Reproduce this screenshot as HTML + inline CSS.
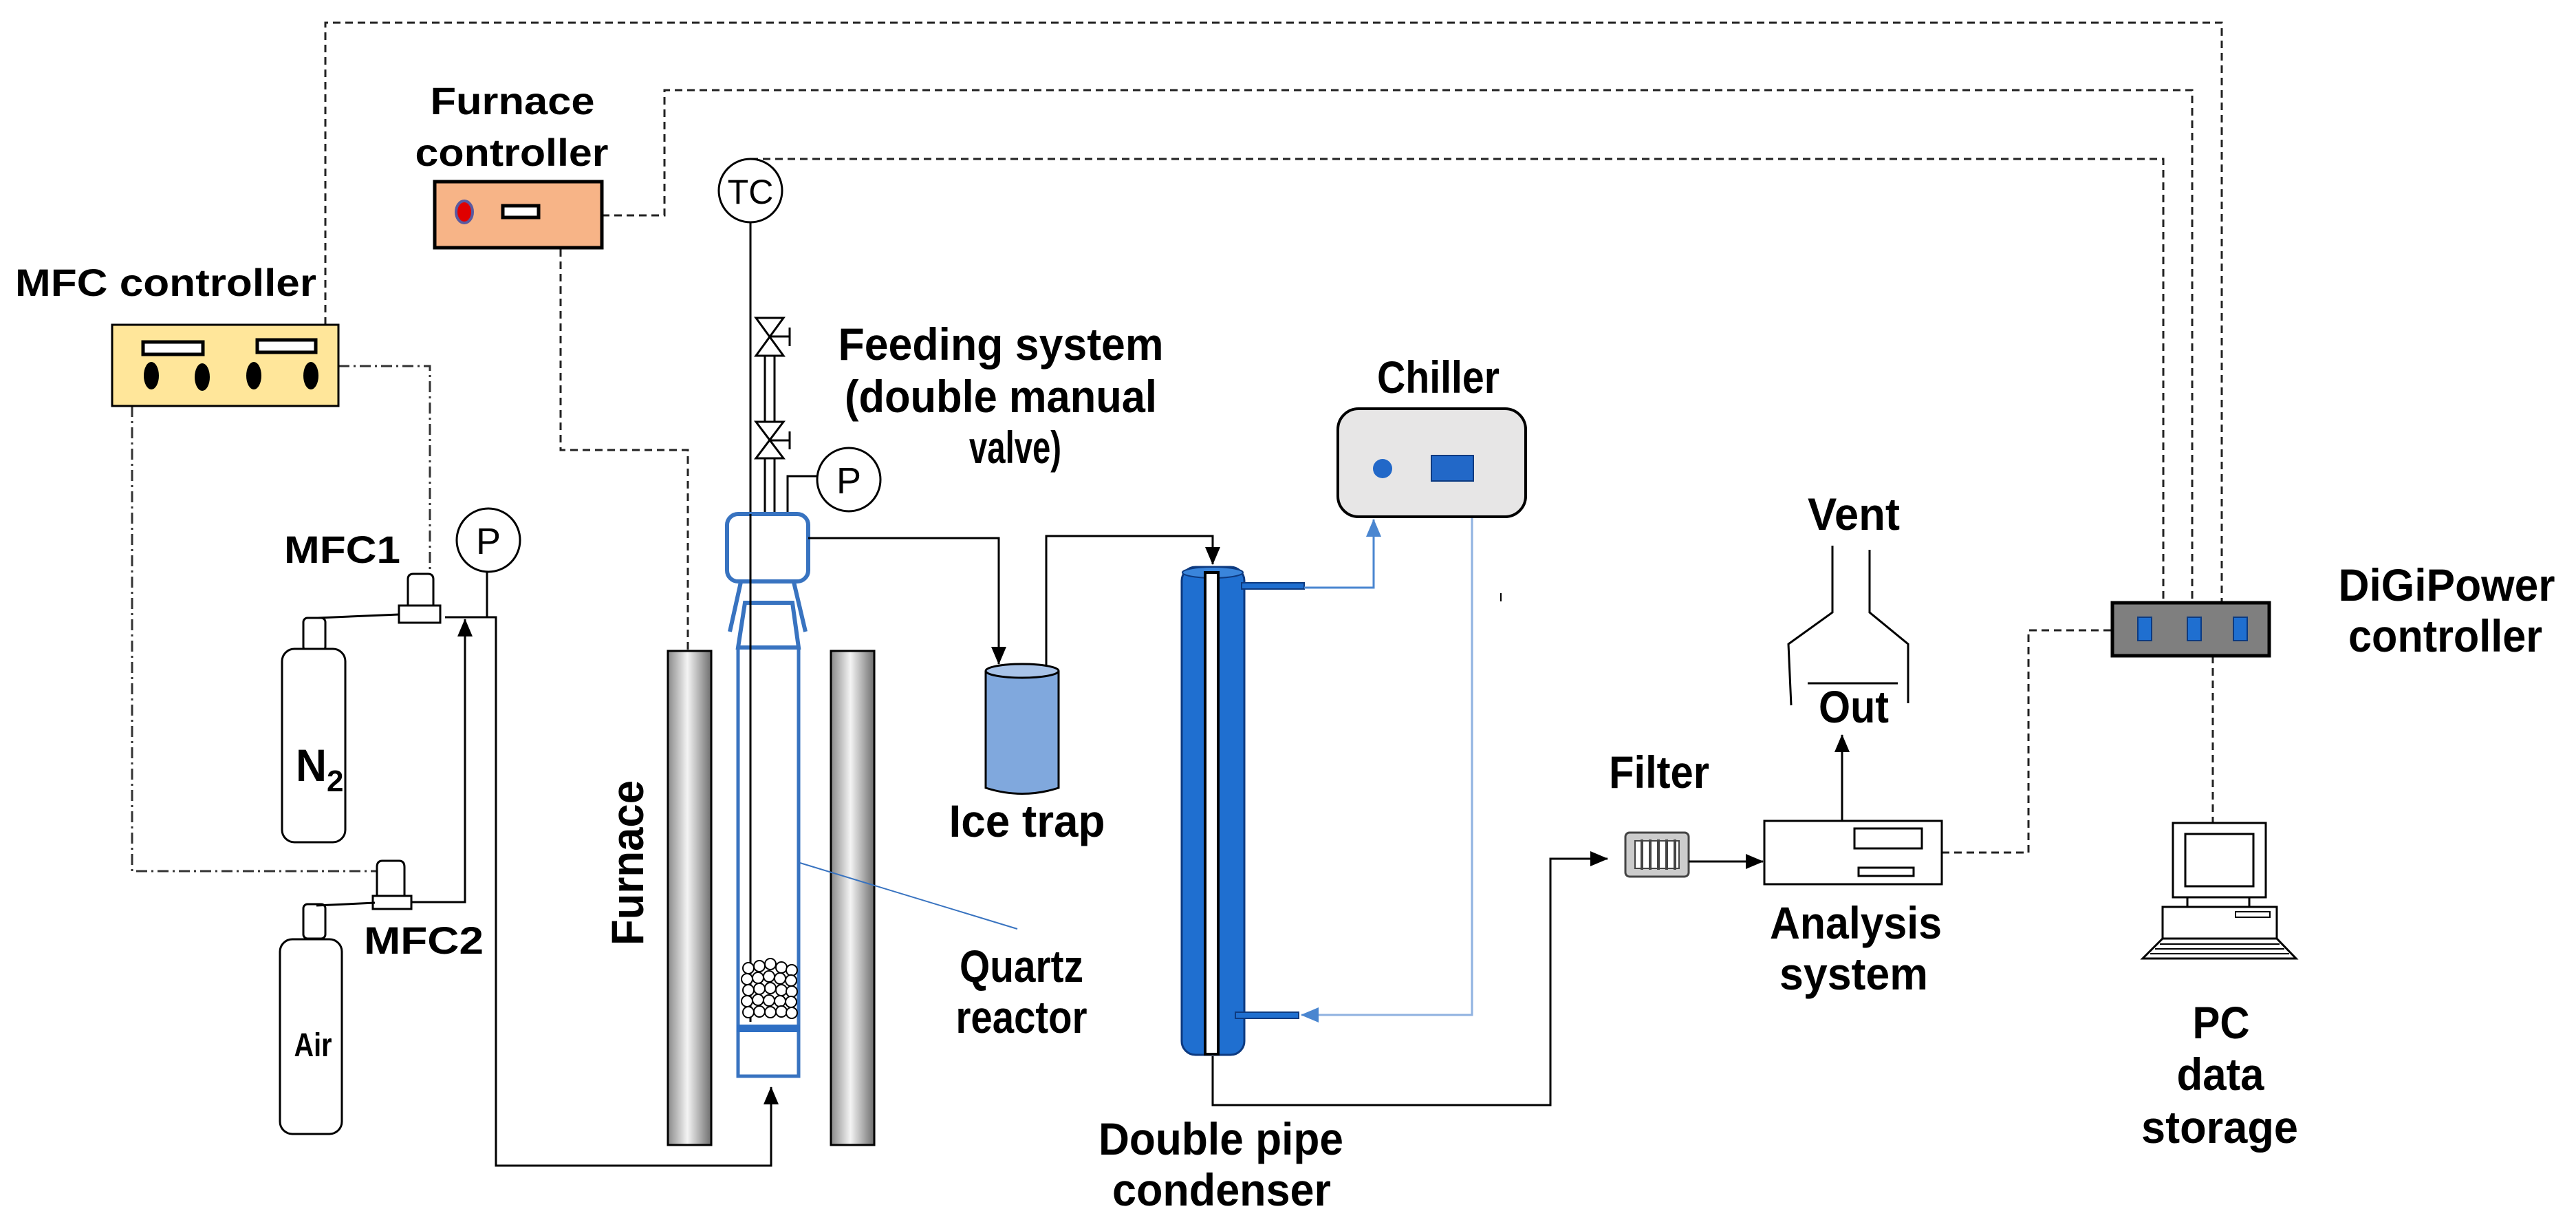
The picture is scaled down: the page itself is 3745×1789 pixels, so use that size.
<!DOCTYPE html>
<html><head><meta charset="utf-8"><style>
html,body{margin:0;padding:0;background:#fff;}
svg{display:block;}
text{font-family:"Liberation Sans",sans-serif;font-weight:bold;fill:#000;}
</style></head><body>
<svg width="3745" height="1789" viewBox="0 0 3745 1789" xmlns="http://www.w3.org/2000/svg">
<defs>
<marker id="ab" markerWidth="10" markerHeight="10" refX="9" refY="5" orient="auto" markerUnits="userSpaceOnUse" viewBox="0 0 10 10"><path d="M0,0 L10,5 L0,10 z" fill="#000"/></marker>
<marker id="abk" markerWidth="26" markerHeight="26" refX="25" refY="13" orient="auto" markerUnits="userSpaceOnUse" viewBox="0 0 26 26"><path d="M0,2 L26,13 L0,24 z" fill="#000"/></marker>
<marker id="abl" markerWidth="26" markerHeight="26" refX="25" refY="13" orient="auto" markerUnits="userSpaceOnUse" viewBox="0 0 26 26"><path d="M0,2 L26,13 L0,24 z" fill="#4A86D0"/></marker>
<linearGradient id="col" x1="0" x2="1" y1="0" y2="0">
<stop offset="0" stop-color="#8a8a8a"/><stop offset="0.45" stop-color="#f4f4f4"/><stop offset="1" stop-color="#6e6e6e"/></linearGradient>
</defs>

<!-- dashed control lines -->
<g fill="none" stroke="#222" stroke-width="3" stroke-dasharray="11 7">
<polyline points="473,472 473,33 3230,33 3230,876"/>
<polyline points="875,313 966,313 966,131 3187,131 3187,876"/>
<polyline points="1091,231 3145,231 3145,876"/>
<polyline points="815,362 815,654 1000,654 1000,946"/>
<polyline points="2823,1239 2949,1239 2949,916 3071,916"/>
<polyline points="3217,953 3217,1196"/>
</g>
<!-- dash-dot MFC lines -->
<g fill="none" stroke="#333" stroke-width="3" stroke-dasharray="16 6 3 6">
<polyline points="492,532 625,532 625,832"/>
<polyline points="192,590 192,1266 548,1266"/>
</g>

<!-- MFC controller -->
<text x="22" y="430" font-size="56" textLength="438" lengthAdjust="spacingAndGlyphs">MFC controller</text>
<rect x="163" y="472" width="329" height="118" fill="#FFE69A" stroke="#000" stroke-width="3"/>
<rect x="208" y="497" width="87" height="18" fill="#fff" stroke="#000" stroke-width="5"/>
<rect x="374" y="494" width="85" height="18" fill="#fff" stroke="#000" stroke-width="5"/>
<ellipse cx="220" cy="546" rx="11" ry="20"/>
<ellipse cx="294" cy="548" rx="11" ry="20"/>
<ellipse cx="369" cy="546" rx="11" ry="20"/>
<ellipse cx="452" cy="546" rx="11" ry="20"/>

<!-- Furnace controller -->
<text x="745" y="166" font-size="56" text-anchor="middle" textLength="239" lengthAdjust="spacingAndGlyphs">Furnace</text>
<text x="744" y="241" font-size="56" text-anchor="middle" textLength="281" lengthAdjust="spacingAndGlyphs">controller</text>
<rect x="632" y="264" width="243" height="96" fill="#F7B487" stroke="#000" stroke-width="5"/>
<ellipse cx="675" cy="308" rx="12" ry="16" fill="#E00000" stroke="#5a5aa0" stroke-width="4"/>
<rect x="731" y="299" width="52" height="17" fill="#fff" stroke="#000" stroke-width="5"/>

<!-- MFC1 / N2 -->
<text x="413" y="818" font-size="56" textLength="169" lengthAdjust="spacingAndGlyphs">MFC1</text>
<circle cx="710" cy="785" r="46" fill="#fff" stroke="#000" stroke-width="3"/>
<text x="710" y="805" font-size="54" font-weight="normal" text-anchor="middle" style="font-weight:normal">P</text>
<line x1="708" y1="831" x2="708" y2="897" stroke="#000" stroke-width="3"/>
<path d="M593,880 L593,842 Q593,834 601,834 L622,834 Q630,834 630,842 L630,880 Z" fill="#fff" stroke="#000" stroke-width="3"/>
<rect x="580" y="880" width="60" height="25" fill="#fff" stroke="#000" stroke-width="3"/>
<rect x="441" y="898" width="32" height="48" rx="6" fill="#fff" stroke="#000" stroke-width="3"/>
<rect x="410" y="943" width="92" height="281" rx="18" fill="#fff" stroke="#000" stroke-width="3"/>
<line x1="462" y1="898" x2="580" y2="893" stroke="#000" stroke-width="3"/>
<text x="430" y="1135" font-size="66" textLength="45" lengthAdjust="spacingAndGlyphs">N</text>
<text x="475" y="1150" font-size="44">2</text>
<polyline points="647,897 721,897 721,1694 1121,1694 1121,1580" fill="none" stroke="#000" stroke-width="3" marker-end="url(#abk)"/>

<!-- MFC2 / Air -->
<path d="M548,1302 L548,1260 Q548,1251 556,1251 L580,1251 Q588,1251 588,1260 L588,1302 Z" fill="#fff" stroke="#000" stroke-width="3"/>
<rect x="542" y="1302" width="56" height="19" fill="#fff" stroke="#000" stroke-width="3"/>
<polyline points="598,1311 676,1311 676,900" fill="none" stroke="#000" stroke-width="3" marker-end="url(#abk)"/>
<rect x="441" y="1314" width="32" height="50" rx="6" fill="#fff" stroke="#000" stroke-width="3"/>
<rect x="407" y="1365" width="90" height="283" rx="18" fill="#fff" stroke="#000" stroke-width="3"/>
<line x1="460" y1="1316" x2="545" y2="1312" stroke="#000" stroke-width="3"/>
<text x="455" y="1535" font-size="48" text-anchor="middle" textLength="55" lengthAdjust="spacingAndGlyphs">Air</text>
<text x="529" y="1386" font-size="56" textLength="174" lengthAdjust="spacingAndGlyphs">MFC2</text>

<!-- Furnace columns -->
<rect x="971" y="946" width="63" height="718" fill="url(#col)" stroke="#000" stroke-width="3"/>
<rect x="1208" y="946" width="63" height="718" fill="url(#col)" stroke="#000" stroke-width="3"/>
<text transform="translate(935,1254) rotate(-90)" font-size="66" text-anchor="middle" textLength="240" lengthAdjust="spacingAndGlyphs">Furnace</text>

<!-- TC, valves, P -->
<circle cx="1091" cy="277" r="46" fill="#fff" stroke="#000" stroke-width="3"/>
<text x="1091" y="296" font-size="50" text-anchor="middle" style="font-weight:normal">TC</text>
<line x1="1091" y1="323" x2="1091" y2="1485" stroke="#000" stroke-width="3"/>
<g fill="#fff" stroke="#000" stroke-width="3">
<path d="M1099,462 L1139,462 L1099,517 L1139,517 Z"/>
<path d="M1099,613 L1139,613 L1099,666 L1139,666 Z"/>
</g>
<g stroke="#000" stroke-width="3">
<line x1="1119" y1="489" x2="1148" y2="489"/><line x1="1148" y1="476" x2="1148" y2="503"/>
<line x1="1119" y1="640" x2="1148" y2="640"/><line x1="1148" y1="627" x2="1148" y2="653"/>
<line x1="1112" y1="517" x2="1112" y2="613"/><line x1="1126" y1="517" x2="1126" y2="613"/>
<line x1="1112" y1="666" x2="1112" y2="747"/><line x1="1126" y1="666" x2="1126" y2="747"/>
<polyline points="1145,747 1145,692 1188,692" fill="none"/>
</g>
<circle cx="1234" cy="697" r="46" fill="#fff" stroke="#000" stroke-width="3"/>
<text x="1234" y="717" font-size="54" text-anchor="middle" style="font-weight:normal">P</text>

<!-- reactor -->
<g fill="none" stroke="#3873C0" stroke-width="6">
<rect x="1057" y="747" width="118" height="98" rx="16" fill="#fff"/>
<line x1="1077" y1="846" x2="1061" y2="918"/>
<line x1="1154" y1="846" x2="1171" y2="918"/>
<path d="M1083,876 L1152,876 L1161,941 L1073,941 Z"/>
<rect x="1073" y="941" width="88" height="623" stroke-width="5"/>
</g>
<line x1="1091" y1="747" x2="1091" y2="1485" stroke="#000" stroke-width="3"/>
<g fill="#fff" stroke="#000" stroke-width="2">
<circle cx="1088" cy="1407" r="8"/><circle cx="1104" cy="1404" r="8"/><circle cx="1120" cy="1401" r="8"/><circle cx="1136" cy="1406" r="8"/><circle cx="1151" cy="1410" r="8"/>
<circle cx="1086" cy="1423" r="8"/><circle cx="1102" cy="1421" r="8"/><circle cx="1118" cy="1419" r="8"/><circle cx="1134" cy="1422" r="8"/><circle cx="1150" cy="1425" r="8"/>
<circle cx="1088" cy="1439" r="8"/><circle cx="1104" cy="1437" r="8"/><circle cx="1120" cy="1436" r="8"/><circle cx="1136" cy="1439" r="8"/><circle cx="1151" cy="1441" r="8"/>
<circle cx="1086" cy="1455" r="8"/><circle cx="1102" cy="1453" r="8"/><circle cx="1118" cy="1454" r="8"/><circle cx="1134" cy="1455" r="8"/><circle cx="1150" cy="1456" r="8"/>
<circle cx="1088" cy="1471" r="8"/><circle cx="1104" cy="1470" r="8"/><circle cx="1120" cy="1471" r="8"/><circle cx="1136" cy="1470" r="8"/><circle cx="1151" cy="1472" r="8"/>
</g>
<rect x="1071" y="1489" width="92" height="11" fill="#2E6FC4"/>
<line x1="1163" y1="1254" x2="1479" y2="1350" stroke="#3873C0" stroke-width="2"/>
<text x="1485" y="1427" font-size="66" text-anchor="middle" textLength="180" lengthAdjust="spacingAndGlyphs">Quartz</text>
<text x="1485" y="1501" font-size="66" text-anchor="middle" textLength="191" lengthAdjust="spacingAndGlyphs">reactor</text>

<!-- Feeding system -->
<text x="1455" y="523" font-size="66" text-anchor="middle" textLength="473" lengthAdjust="spacingAndGlyphs">Feeding system</text>
<text x="1455" y="599" font-size="66" text-anchor="middle" textLength="454" lengthAdjust="spacingAndGlyphs">(double manual</text>
<text x="1476" y="673" font-size="66" text-anchor="middle" textLength="134" lengthAdjust="spacingAndGlyphs">valve)</text>

<!-- ice trap -->
<polyline points="1175,782 1452,782 1452,965" fill="none" stroke="#000" stroke-width="3" marker-end="url(#abk)"/>
<path d="M1433,975 L1433,1145 Q1486,1162 1539,1145 L1539,975" fill="#80A8DD" stroke="#000" stroke-width="3"/>
<ellipse cx="1486" cy="975" rx="53" ry="10" fill="#A8C3E8" stroke="#000" stroke-width="3"/>
<polyline points="1521,968 1521,779 1763,779 1763,820" fill="none" stroke="#000" stroke-width="3" marker-end="url(#abk)"/>
<text x="1493" y="1216" font-size="66" text-anchor="middle" textLength="227" lengthAdjust="spacingAndGlyphs">Ice trap</text>

<!-- condenser -->
<rect x="1718" y="824" width="91" height="709" rx="20" fill="#1F6FD0" stroke="#0d3a80" stroke-width="3"/>
<ellipse cx="1763" cy="832" rx="44" ry="8" fill="#3A85DB" stroke="#0d3a80" stroke-width="2"/>
<rect x="1752" y="832" width="19" height="700" fill="#fff" stroke="#000" stroke-width="4"/>
<rect x="1805" y="847" width="91" height="9" fill="#1F6FD0" stroke="#0d3a80" stroke-width="2"/>
<rect x="1796" y="1471" width="92" height="9" fill="#1F6FD0" stroke="#0d3a80" stroke-width="2"/>
<polyline points="1896,854 1997,854 1997,755" fill="none" stroke="#4A86D0" stroke-width="3" marker-end="url(#abl)"/>
<polyline points="2140,751 2140,1475 1892,1475" fill="none" stroke="#8FB2E0" stroke-width="3" marker-end="url(#abl)"/>
<line x1="2182" y1="862" x2="2182" y2="874" stroke="#000" stroke-width="2"/>
<text x="1775" y="1678" font-size="66" text-anchor="middle" textLength="356" lengthAdjust="spacingAndGlyphs">Double pipe</text>
<text x="1776" y="1752" font-size="66" text-anchor="middle" textLength="318" lengthAdjust="spacingAndGlyphs">condenser</text>

<!-- chiller -->
<text x="2091" y="571" font-size="66" text-anchor="middle" textLength="178" lengthAdjust="spacingAndGlyphs">Chiller</text>
<rect x="1945" y="594" width="273" height="157" rx="30" fill="#E7E6E6" stroke="#000" stroke-width="4"/>
<circle cx="2010" cy="681" r="14" fill="#2268C8"/>
<rect x="2081" y="662" width="61" height="37" fill="#2268C8" stroke="#0d3a80" stroke-width="2"/>

<!-- filter -->
<polyline points="1763,1535 1763,1606 2254,1606 2254,1248 2337,1248" fill="none" stroke="#000" stroke-width="3" marker-end="url(#abk)"/>
<text x="2412" y="1145" font-size="66" text-anchor="middle" textLength="146" lengthAdjust="spacingAndGlyphs">Filter</text>
<rect x="2363" y="1210" width="92" height="64" rx="6" fill="#ccc" stroke="#444" stroke-width="3"/>
<rect x="2377" y="1222" width="64" height="40" fill="#fff" stroke="#444" stroke-width="2"/>
<g stroke="#444" stroke-width="4"><line x1="2387" y1="1220" x2="2387" y2="1264"/><line x1="2399" y1="1220" x2="2399" y2="1264"/><line x1="2411" y1="1220" x2="2411" y2="1264"/><line x1="2423" y1="1220" x2="2423" y2="1264"/><line x1="2435" y1="1220" x2="2435" y2="1264"/></g>
<line x1="2455" y1="1252" x2="2563" y2="1252" stroke="#000" stroke-width="3" marker-end="url(#abk)"/>

<!-- analysis -->
<rect x="2565" y="1193" width="258" height="92" fill="#fff" stroke="#000" stroke-width="3"/>
<rect x="2696" y="1204" width="98" height="29" fill="#fff" stroke="#000" stroke-width="3"/>
<rect x="2702" y="1261" width="80" height="12" fill="#fff" stroke="#000" stroke-width="3"/>
<text x="2698" y="1364" font-size="66" text-anchor="middle" textLength="250" lengthAdjust="spacingAndGlyphs">Analysis</text>
<text x="2695" y="1438" font-size="66" text-anchor="middle" textLength="216" lengthAdjust="spacingAndGlyphs">system</text>
<line x1="2678" y1="1193" x2="2678" y2="1068" stroke="#000" stroke-width="3" marker-end="url(#abk)"/>
<text x="2695" y="1050" font-size="66" text-anchor="middle" textLength="102" lengthAdjust="spacingAndGlyphs">Out</text>
<line x1="2628" y1="993" x2="2759" y2="993" stroke="#000" stroke-width="3"/>
<polyline points="2664,793 2664,890 2600,936 2604,1025" fill="none" stroke="#000" stroke-width="3"/>
<polyline points="2718,799 2718,890 2774,936 2774,1022" fill="none" stroke="#000" stroke-width="3"/>
<text x="2695" y="770" font-size="66" text-anchor="middle" textLength="134" lengthAdjust="spacingAndGlyphs">Vent</text>

<!-- DiGiPower -->
<rect x="3071" y="876" width="228" height="77" fill="#7F7F7F" stroke="#000" stroke-width="5"/>
<rect x="3108" y="897" width="20" height="34" fill="#1F6FD0" stroke="#0d3a80" stroke-width="2"/>
<rect x="3180" y="897" width="20" height="34" fill="#1F6FD0" stroke="#0d3a80" stroke-width="2"/>
<rect x="3247" y="897" width="20" height="34" fill="#1F6FD0" stroke="#0d3a80" stroke-width="2"/>
<text x="3557" y="873" font-size="66" text-anchor="middle" textLength="315" lengthAdjust="spacingAndGlyphs">DiGiPower</text>
<text x="3555" y="947" font-size="66" text-anchor="middle" textLength="282" lengthAdjust="spacingAndGlyphs">controller</text>

<!-- PC -->
<rect x="3159" y="1196" width="135" height="108" fill="#fff" stroke="#000" stroke-width="3"/>
<rect x="3177" y="1212" width="99" height="76" fill="#fff" stroke="#000" stroke-width="3"/>
<rect x="3180" y="1304" width="90" height="14" fill="#fff" stroke="#000" stroke-width="3"/>
<rect x="3144" y="1318" width="166" height="46" fill="#fff" stroke="#000" stroke-width="3"/>
<rect x="3250" y="1325" width="50" height="8" fill="#fff" stroke="#000" stroke-width="2"/>
<path d="M3144,1364 L3310,1364 L3338,1393 L3115,1393 Z" fill="#fff" stroke="#000" stroke-width="3"/>
<g stroke="#000" stroke-width="2"><line x1="3140" y1="1372" x2="3314" y2="1372"/><line x1="3133" y1="1379" x2="3321" y2="1379"/><line x1="3126" y1="1386" x2="3328" y2="1386"/></g>
<text x="3229" y="1509" font-size="66" text-anchor="middle" textLength="83" lengthAdjust="spacingAndGlyphs">PC</text>
<text x="3228" y="1584" font-size="66" text-anchor="middle" textLength="127" lengthAdjust="spacingAndGlyphs">data</text>
<text x="3227" y="1661" font-size="66" text-anchor="middle" textLength="228" lengthAdjust="spacingAndGlyphs">storage</text>
</svg>
</body></html>
